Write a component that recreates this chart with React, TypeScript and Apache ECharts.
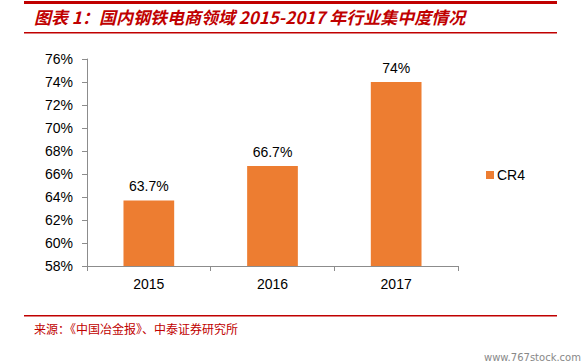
import React, { useEffect, useRef } from "react";
import * as echarts from "echarts";

const categories = ["2015", "2016", "2017"];
const cr4Values = [63.7, 66.7, 74];
const valueLabels = ["63.7%", "66.7%", "74%"];
const seriesName = "CR4";
const titleText = "图表 1：国内钢铁电商领域 2015-2017 年行业集中度情况";
const sourceText = "来源：《中国冶金报》、中泰证券研究所";
const watermark = "www.767stock.com";

export default function App() {
  const ref = useRef<HTMLDivElement>(null);
  useEffect(() => {
    if (!ref.current) return;
    const chart = echarts.init(ref.current, null, { renderer: "svg" });
    const red = "#C00000";
    chart.setOption({
      animation: false,
      textStyle: { fontFamily: "Liberation Sans, Arial, sans-serif" },
      grid: { left: 87, right: 124, top: 59, bottom: 97, containLabel: false },
      legend: {
        data: [seriesName],
        left: 481,
        top: 163,
        icon: "rect",
        itemWidth: 8,
        itemHeight: 8,
        itemGap: 4,
        textStyle: { fontSize: 14, color: "#000", padding: [0, 0, 0, -2] },
      },
      xAxis: {
        type: "category",
        data: categories,
        axisLine: { lineStyle: { color: "#8c8c8c", width: 1 } },
        axisTick: { show: true, length: 5, lineStyle: { color: "#8c8c8c" } },
        axisLabel: { color: "#000", fontSize: 14, margin: 11 },
      },
      yAxis: {
        type: "value",
        min: 58,
        max: 76,
        interval: 2,
        axisLine: { show: true, lineStyle: { color: "#8c8c8c", width: 1 } },
        axisTick: { show: true, length: 5, lineStyle: { color: "#8c8c8c" } },
        splitLine: { show: false },
        axisLabel: { color: "#000", fontSize: 14, margin: 14, formatter: "{value}%" },
      },
      series: [
        {
          name: seriesName,
          type: "bar",
          data: cr4Values,
          barWidth: "41%",
          itemStyle: { color: "#ED7D31" },
          label: {
            show: true,
            position: "top",
            distance: 7,
            fontSize: 14,
            color: "#000",
            formatter: (p: any) => valueLabels[p.dataIndex],
          },
        },
      ],
      graphic: [
        { type: "rect", shape: { x: 24, y: 1, width: 533, height: 3 }, style: { fill: red } },
        {
          type: "text",
          left: 34,
          top: 8,
          style: {
            text: titleText,
            fill: red,
            font: "italic bold 17px 'Noto Sans CJK SC', sans-serif",
          },
        },
        { type: "rect", shape: { x: 24, y: 32, width: 533, height: 1.5 }, style: { fill: red } },
        { type: "rect", shape: { x: 24, y: 315, width: 533, height: 1.5 }, style: { fill: red } },
        {
          type: "text",
          left: 34,
          top: 322,
          style: {
            text: sourceText,
            fill: red,
            font: "12px 'Noto Sans CJK SC', sans-serif",
          },
        },
        {
          type: "text",
          left: 484,
          top: 352,
          style: {
            text: watermark,
            fill: "#888",
            font: "10px 'DejaVu Sans', sans-serif",
          },
        },
      ],
    });
    return () => chart.dispose();
  }, []);
  return <div ref={ref} style={{ width: 582, height: 363, position: "absolute", left: 0, top: 0 }} />;
}
